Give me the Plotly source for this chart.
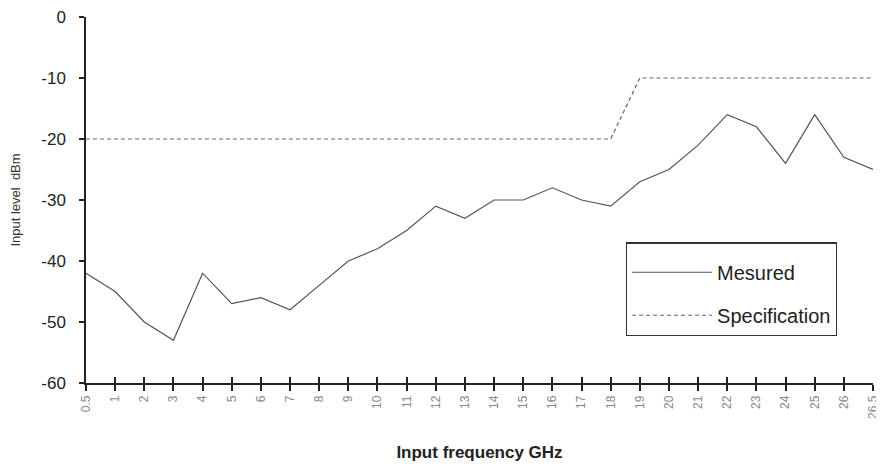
import plotly.graph_objects as go

freq_labels = ["0.5"] + [str(i) for i in range(1, 27)] + ["26.5"]
measured = [-42, -45, -50, -53, -42, -47, -46, -48, -44, -40, -38, -35, -31, -33,
            -30, -30, -28, -30, -31, -27, -25, -21, -16, -18, -24, -16, -23, -25]
specification = [-20, -20, -20, -20, -20, -20, -20, -20, -20, -20, -20, -20, -20, -20,
                 -20, -20, -20, -20, -20, -10, -10, -10, -10, -10, -10, -10, -10, -10]
y_ticks = [0, -10, -20, -30, -40, -50, -60]
y_tick_text = ["0", "-10", "-20", "-30", "-40", "-50", "-60"]

fig = go.Figure()
fig.add_trace(go.Scatter(x=freq_labels, y=measured, mode="lines", name="Mesured",
                         line=dict(color="#555555", width=1.2), legendgroup="a"))
fig.add_trace(go.Scatter(x=freq_labels, y=specification, mode="lines", name="Specification",
                         line=dict(color="#666666", width=1.2, dash="4px,3px"), legendgroup="b"))
# invisible trace to draw crossing ticks on x axis
fig.add_trace(go.Scatter(x=freq_labels, y=[None]*len(freq_labels), xaxis="x2",
                         showlegend=False, hoverinfo="skip"))

fig.update_layout(
    width=884, height=466,
    margin=dict(l=78, r=19, t=9, b=91, autoexpand=False),
    paper_bgcolor="white", plot_bgcolor="white",
    font=dict(family="Liberation Sans, Arial, sans-serif", color="#222"),
    showlegend=True,
    legend=dict(x=0.686, y=0.384, xanchor="left", yanchor="top",
                bgcolor="white", bordercolor="#333", borderwidth=1.2,
                title=dict(text=" ", font=dict(size=7)),
                font=dict(size=20, color="#222"), tracegroupgap=14,
                traceorder="grouped", itemwidth=80),
    xaxis=dict(type="category", categoryorder="array", categoryarray=freq_labels,
               range=[0, len(freq_labels) - 1], automargin=False,
               showline=True, linecolor="#222", linewidth=1.5,
               ticks="outside", ticklen=6, tickwidth=1.5, tickcolor="#222",
               tickangle=-90, tickfont=dict(size=12, color="#888"),
               ticklabeloverflow="allow",
               showgrid=False, zeroline=False,
               title=dict(text="<b>Input frequency GHz</b>", font=dict(size=17, color="#222"),
                          standoff=28)),
    xaxis2=dict(type="category", categoryorder="array", categoryarray=freq_labels,
                range=[0, len(freq_labels) - 1], overlaying="x", side="bottom",
                anchor="y", showline=False, ticks="inside", ticklen=6, tickwidth=1.5,
                tickcolor="#222", showticklabels=False, showgrid=False, zeroline=False),
    yaxis=dict(range=[-60, 0], tickvals=y_ticks, ticktext=y_tick_text, automargin=False,
               showline=True, linecolor="#222", linewidth=1.5,
               ticks="outside", ticklen=5, tickwidth=1.5, tickcolor="#222",
               ticklabelstandoff=10, ticklabeloverflow="allow",
               tickfont=dict(size=17, color="#222"),
               showgrid=False, zeroline=False,
               title=dict(text="Input level  dBm", font=dict(size=13, color="#333"),
                          standoff=20)),
)

fig.write_html("out.html")
